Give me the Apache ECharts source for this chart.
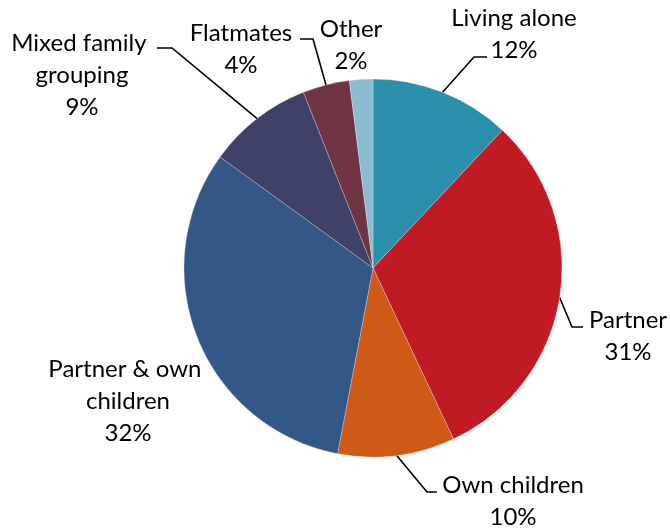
<!DOCTYPE html>
<html>
<head>
<meta charset="utf-8">
<script src="https://cdn.jsdelivr.net/npm/echarts@6/dist/echarts.min.js"></script>
<style>
html,body{margin:0;padding:0;background:#fff;}
#chart{width:670px;height:531px;}
</style>
</head>
<body>
<div id="chart"></div>
<script>
// ---- data ----
var categories = ['Living alone', 'Partner', 'Own children', 'Partner & own children', 'Mixed family grouping', 'Flatmates', 'Other'];
var shares = [12, 31, 10, 32, 9, 4, 2];
var colors = ['#2A8FAB', '#C01B24', '#CF5A18', '#335888', '#3F4068', '#6E3441', '#8ABDD1'];

// ---- label placement (layout only) ----
var labelPlacement = [
  { x: 514, y: 34, width: 0, elbow: [474, 57], end: [487, 57] },
  { x: 628, y: 336, width: 0, elbow: [572, 327], end: [583, 327] },
  { x: 513, y: 501, width: 0, elbow: [427, 492], end: [437, 492] },
  { x: 128, y: 401, width: 170, elbow: null, end: null },
  { x: 82, y: 75, width: 155, elbow: [172, 48], end: [157, 48] },
  { x: 241, y: 49, width: 0, elbow: [313, 39], end: [300, 39] },
  { x: 351, y: 45, width: 0, elbow: null, end: null }
];

var chart = echarts.init(document.getElementById('chart'));
var pieData = categories.map(function (name, i) {
  var p = labelPlacement[i];
  var item = {
    name: name,
    value: shares[i],
    itemStyle: { color: colors[i] },
    labelLine: { show: !!p.elbow }
  };
  if (p.width) {
    item.label = { width: p.width, overflow: 'break' };
  }
  return item;
});

chart.setOption({
  backgroundColor: '#ffffff',
  animation: false,
  series: [{
    type: 'pie',
    center: [373, 268],
    radius: [0, 189],
    startAngle: 90,
    clockwise: true,
    avoidLabelOverlap: false,
    data: pieData,
    itemStyle: { borderColor: 'rgba(255,255,255,0.5)', borderWidth: 0.5 },
    label: {
      show: true,
      position: 'outside',
      formatter: '{b}\n{c}%',
      color: '#000',
      fontFamily: 'Lato',
      fontSize: 24,
      lineHeight: 32,
      align: 'center'
    },
    labelLine: {
      show: true,
      length: 20,
      length2: 10,
      lineStyle: { color: '#000', width: 1.6 }
    },
    labelLayout: function (params) {
      var p = labelPlacement[params.dataIndex];
      var res = { x: p.x, y: p.y, align: 'center', verticalAlign: 'middle' };
      if (p.elbow && params.labelLinePoints) {
        res.labelLinePoints = [params.labelLinePoints[0], p.elbow, p.end];
      }
      return res;
    }
  }]
});
</script>
</body>
</html>
